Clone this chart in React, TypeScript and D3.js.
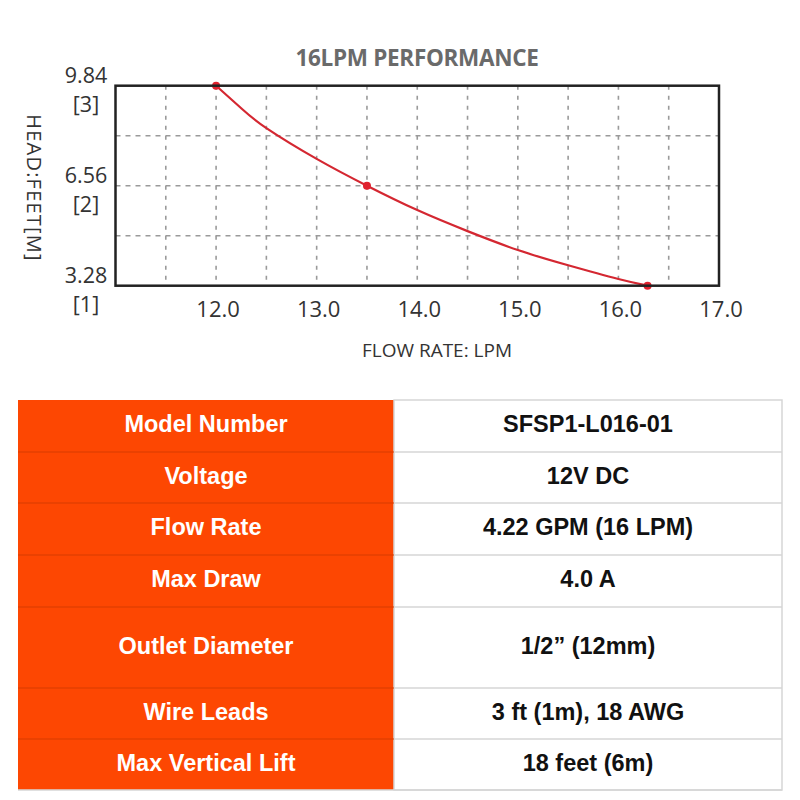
import React from "react";
import * as d3 from "d3";

const curveFlow = [12.0, 12.25, 12.5, 13.0, 13.5, 14.0, 14.5, 15.0, 15.5, 16.0, 16.29];
const curveHead = [9.84, 9.1, 8.45, 7.44, 6.56, 5.76, 5.07, 4.45, 3.95, 3.5, 3.28];
const markerFlow = [12.0, 13.5, 16.29];
const markerHead = [9.84, 6.56, 3.28];
const xTicks = [12.0, 13.0, 14.0, 15.0, 16.0, 17.0];
const yTicksFeet = [9.84, 6.56, 3.28];
const yTicksMeter = ["[3]", "[2]", "[1]"];
const xGrid = [11.5, 12, 12.5, 13, 13.5, 14, 14.5, 15, 15.5, 16, 16.5];
const yGrid = [4.92, 6.56, 8.2];

const specLabels = ["Model Number", "Voltage", "Flow Rate", "Max Draw", "Outlet Diameter", "Wire Leads", "Max Vertical Lift"];
const specValues = ["SFSP1-L016-01", "12V DC", "4.22 GPM (16 LPM)", "4.0 A", "1/2\u201d (12mm)", "3 ft (1m), 18 AWG", "18 feet (6m)"];
const rowHeights = [52, 51, 52, 52, 81, 51, 51];

export default function App() {
  const x = d3.scaleLinear().domain([11, 17]).range([115.5, 719]);
  const y = d3.scaleLinear().domain([3.28, 9.84]).range([285.7, 85.7]);
  const line = d3
    .line<number>()
    .x((_, i) => x(curveFlow[i]))
    .y((d) => y(d))
    .curve(d3.curveNatural);

  const tableTop = 400;
  const leftX = 18;
  const midX = 394;
  const rightX = 782;
  const rowTops: number[] = [];
  let acc = tableTop;
  rowHeights.forEach((h) => {
    rowTops.push(acc);
    acc += h;
  });
  const tableBottom = acc;

  const sans = "'Open Sans', 'Noto Sans', sans-serif";
  const arial = "'Liberation Sans', Arial, Helvetica, sans-serif";

  return (
    <svg width={800} height={800} style={{ position: "absolute", left: 0, top: 0, background: "#fff" }}>
      <rect x={0} y={0} width={800} height={800} fill="#fff" />
      <text x={417} y={66} textAnchor="middle" fontFamily={sans} fontWeight={700} fontSize={22.5} fill="#6a6a6a" letterSpacing={-0.3}>
        16LPM PERFORMANCE
      </text>

      {xGrid.map((v) => (
        <line key={"xg" + v} x1={x(v)} x2={x(v)} y1={y(9.84)} y2={y(3.28)} stroke="#9a9a9a" strokeWidth={1.6} strokeDasharray="4,6" />
      ))}
      {yGrid.map((v) => (
        <line key={"yg" + v} x1={x(11)} x2={x(17)} y1={y(v)} y2={y(v)} stroke="#9a9a9a" strokeWidth={1.6} strokeDasharray="5,5" />
      ))}

      <path d={line(curveHead) || ""} fill="none" stroke="#d42731" strokeWidth={2.2} />
      {markerFlow.map((v, i) => (
        <circle key={"m" + i} cx={x(v)} cy={y(markerHead[i])} r={4} fill="#e0222e" />
      ))}

      <rect x={x(11)} y={y(9.84)} width={x(17) - x(11)} height={y(3.28) - y(9.84)} fill="none" stroke="#222" strokeWidth={2.5} />

      {xTicks.map((v) => (
        <text key={"xt" + v} x={x(v) + 2} y={317} textAnchor="middle" fontFamily={sans} fontSize={22} fill="#333">
          {v.toFixed(1)}
        </text>
      ))}
      {yTicksFeet.map((v, i) => (
        <g key={"yt" + v}>
          <text x={86} y={y(v) - 3} textAnchor="middle" fontFamily={sans} fontSize={21.5} fill="#333">
            {v.toFixed(2)}
          </text>
          <text x={86} y={y(v) + 26} textAnchor="middle" fontFamily={sans} fontSize={21.5} fill="#333">
            {yTicksMeter[i]}
          </text>
        </g>
      ))}
      <text
        transform="translate(27,188) rotate(90)"
        textAnchor="middle"
        fontFamily={sans}
        fontSize={20}
        fill="#333"
        letterSpacing={1.2}
      >
        HEAD:FEET[M]
      </text>
      <text x={437} y={357} textAnchor="middle" fontFamily={sans} fontSize={19} fill="#333">
        FLOW RATE: LPM
      </text>

      <rect x={leftX} y={tableTop} width={midX - leftX} height={tableBottom - tableTop} fill="#fd4702" />
      <rect x={midX} y={tableTop} width={rightX - midX} height={tableBottom - tableTop} fill="#fff" stroke="#d6d6d6" strokeWidth={1.5} />
      {rowTops.slice(1).map((t, i) => (
        <g key={"rl" + i}>
          <line x1={leftX} x2={midX} y1={t} y2={t} stroke="#d83c00" strokeWidth={1.2} />
          <line x1={midX} x2={rightX} y1={t} y2={t} stroke="#d6d6d6" strokeWidth={1.5} />
        </g>
      ))}
      <line x1={leftX} x2={rightX} y1={tableBottom} y2={tableBottom} stroke="#d6d6d6" strokeWidth={1.5} />
      {specLabels.map((s, i) => {
        const cy = rowTops[i] + rowHeights[i] / 2;
        return (
          <g key={"row" + i}>
            <text x={(leftX + midX) / 2} y={cy + 6} textAnchor="middle" fontFamily={arial} fontWeight={700} fontSize={23.5} fill="#fff">
              {s}
            </text>
            <text x={(midX + rightX) / 2} y={cy + 6} textAnchor="middle" fontFamily={arial} fontWeight={700} fontSize={23.5} fill="#111">
              {specValues[i]}
            </text>
          </g>
        );
      })}
    </svg>
  );
}
